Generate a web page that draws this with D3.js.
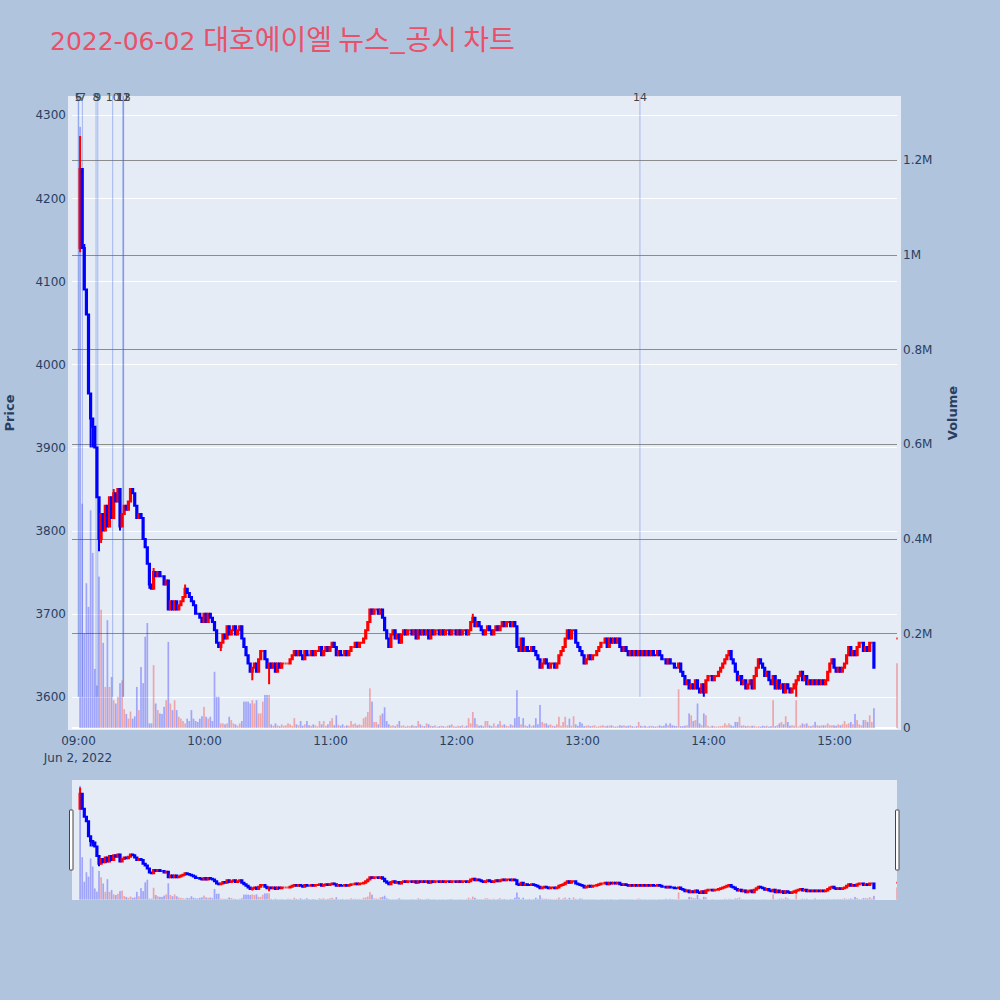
<!DOCTYPE html>
<html><head><meta charset="utf-8">
<script src="https://cdn.jsdelivr.net/npm/d3@7"></script>
<style>body{margin:0;background:#b0c4de}svg{display:block}</style>
</head><body><svg id="c" width="1000" height="1000"></svg>
<script>
// ---------------- DATA ----------------
const DAY = "2022-06-02";
const titleDate = "2022-06-02";
const titleName = "대호에이엘 뉴스_공시 차트";
const firstCandleTime = "09:01";   // one-minute candles, consecutive from here
const firstOpen = 4140;
// closing prices per minute 09:01 .. 15:19
const closes = [
4235,4140,4090,4060,3965,3935,3925,3900,3840,3790,
3820,3800,3830,3805,3840,3815,3845,3835,3850,3805,
3820,3830,3825,3835,3850,3845,3830,3815,3820,3815,
3790,3780,3760,3735,3730,3750,3745,3750,3745,3745,
3735,3740,3705,3715,3705,3715,3705,3710,3715,3720,
3730,3725,3720,3715,3710,3700,3700,3695,3690,3700,
3690,3700,3695,3690,3680,3665,3660,3665,3675,3670,
3685,3675,3680,3685,3675,3680,3685,3670,3660,3650,
3640,3630,3635,3640,3630,3645,3655,3655,3645,3635,
3640,3635,3640,3630,3640,3635,3640,3640,3640,3640,
3645,3650,3655,3650,3655,3650,3645,3655,3650,3650,
3655,3650,3655,3655,3660,3650,3655,3660,3655,3660,
3665,3660,3650,3655,3650,3650,3655,3650,3655,3660,
3660,3665,3660,3665,3665,3670,3680,3690,3705,3700,
3705,3705,3700,3705,3695,3680,3670,3660,3675,3680,
3670,3675,3665,3675,3680,3675,3680,3680,3675,3680,
3670,3680,3675,3680,3675,3680,3670,3680,3675,3680,
3680,3675,3680,3675,3680,3680,3675,3680,3680,3675,
3680,3675,3680,3680,3675,3680,3690,3695,3685,3690,
3685,3680,3675,3680,3685,3680,3675,3680,3685,3680,
3685,3690,3685,3690,3690,3685,3690,3685,3660,3655,
3670,3655,3660,3655,3655,3660,3655,3650,3645,3635,
3640,3645,3640,3635,3640,3640,3635,3640,3650,3655,
3660,3670,3680,3670,3680,3680,3665,3660,3655,3650,
3640,3645,3650,3645,3650,3650,3655,3660,3665,3665,
3670,3660,3670,3665,3670,3665,3670,3660,3655,3660,
3655,3650,3655,3650,3655,3650,3655,3650,3655,3650,
3655,3650,3655,3650,3650,3655,3650,3645,3645,3640,
3645,3640,3640,3635,3635,3640,3630,3625,3615,3620,
3610,3615,3610,3620,3610,3605,3615,3605,3620,3625,
3625,3620,3625,3625,3630,3635,3640,3645,3650,3655,
3645,3640,3630,3620,3625,3615,3620,3610,3615,3620,
3610,3625,3635,3645,3640,3635,3625,3630,3620,3615,
3625,3610,3620,3610,3615,3605,3615,3610,3605,3610,
3615,3620,3625,3630,3620,3625,3615,3620,3615,3620,
3615,3620,3615,3620,3615,3620,3630,3640,3645,3635,
3630,3635,3630,3635,3640,3650,3660,3650,3655,3650,
3660,3665,3665,3655,3660,3655,3665,3665,3635
];
// volume per minute, thousands of shares, 09:01 .. 15:19
const volumesK = [
1270,474,200,306,256,460,370,125,90,320,
250,180,87,228,87,108,59,52,66,95,
101,40,30,20,35,20,25,87,38,129,
95,193,222,10,10,133,52,38,31,30,
45,59,182,52,38,59,38,24,20,15,
10,20,15,38,20,15,13,20,25,45,
24,20,24,15,119,66,66,10,10,8,
10,24,17,10,8,5,10,15,56,56,
56,52,59,52,59,31,31,56,70,70,
70,8,5,10,6,4,8,5,6,10,
8,5,21,8,6,15,5,8,15,6,
5,8,6,4,15,8,15,5,8,15,
21,6,27,7,5,8,4,6,5,15,
8,10,6,8,6,21,24,34,84,56,
13,13,8,27,31,44,15,8,5,6,
4,8,15,5,6,3,5,4,6,5,
4,15,8,5,4,10,8,5,4,6,
3,4,5,4,3,5,6,8,4,3,
5,4,6,3,5,21,10,34,21,8,
5,6,4,15,15,6,4,10,4,8,
15,6,8,5,4,8,6,21,80,24,
8,21,6,4,8,4,6,21,8,49,
13,10,10,6,8,5,4,8,24,5,
13,24,6,20,5,25,8,5,13,10,
4,5,6,4,5,6,3,4,5,6,
4,5,5,6,4,3,4,6,5,6,
4,5,6,4,3,4,13,5,4,5,
3,4,5,4,3,4,6,4,5,10,
6,10,6,5,4,82,4,4,5,6,
31,27,15,17,52,10,6,31,27,5,
3,5,4,3,4,4,5,10,6,10,
6,4,13,13,24,5,6,4,5,4,
5,5,3,4,3,5,4,5,3,4,
59,4,6,10,13,8,25,13,5,6,
5,59,3,6,10,8,10,5,4,6,
13,6,5,6,6,6,10,6,6,6,
5,8,6,8,15,8,10,13,8,30,
17,8,6,17,17,13,27,13,42
];
// wicks that reach beyond the candle body
const wickHighs = [["09:01",4275],["09:03",4145],["09:17",3850],["09:36",3755],["09:51",3735],["12:08",3700]];
const wickLows  = [["09:01",4135],["09:06",3900],["09:07",3900],["09:10",3775],["09:11",3785],["09:20",3800],
                   ["09:34",3730],["10:08",3655],["10:23",3620],["10:31",3615],["13:58",3600],["14:42",3600]];
// closing auction
const closingAuction = {time:"15:30", open:3670, close:3670, volumeK:137};
// news / disclosure markers
const newsTimes  = ["09:00:05","09:00:20","09:02:05","09:08:35","09:09:25","09:16:30","09:21:20","09:21:35","09:21:45","13:27:35"];
const newsLabels = ["5","6","7","8","9","10","11","12","13","14"];
// axes
const priceTicks = [3600,3700,3800,3900,4000,4100,4200,4300];
const volTicks = [0,200000,400000,600000,800000,1000000,1200000];
const volTickLabels = ["0","0.2M","0.4M","0.6M","0.8M","1M","1.2M"];
const xRangeStart = "08:55:14", xRangeEnd = "15:31:54";

// ---------------- BUILD ----------------
const pT = d3.timeParse("%Y-%m-%d %H:%M:%S");
const pM = d3.timeParse("%Y-%m-%d %H:%M");
const base = pM(DAY + " " + firstCandleTime);
const hiMap = new Map(wickHighs), loMap = new Map(wickLows);
const fmtHM = d3.timeFormat("%H:%M");
const n = Math.min(closes.length, volumesK.length);
const candles = [];
let prevDir = false;
for (let i = 0; i < n; i++) {
  const t = d3.timeMinute.offset(base, i);
  const o = i === 0 ? firstOpen : closes[i-1], c = closes[i];
  const key = fmtHM(t);
  const h = Math.max(o, c, hiMap.get(key) || 0);
  const l = Math.min(o, c, loMap.get(key) || 1e9);
  const up = c > o ? true : c < o ? false : prevDir;
  prevDir = up;
  const volUp = i === 0 ? false : c > closes[i-1] ? true : c < closes[i-1] ? false : up;
  candles.push({t, o, h, l, c, up, v: volumesK[i]*1000, volUp});
}
{
  const t = pM(DAY + " " + closingAuction.time);
  const o = closingAuction.open, c = closingAuction.close;
  candles.push({t, o, c, h:Math.max(o,c), l:Math.min(o,c), up:true, v:closingAuction.volumeK*1000, volUp: c > closes[n-1]});
}

const PL=68, PR=901, PT=96, PB=730, GL=72, GR=897;
const SL=72, SR=897, ST=780, SB=900;
const x = d3.scaleTime().domain([pT(DAY+" "+xRangeStart), pT(DAY+" "+xRangeEnd)]).range([PL, PR]);
const yP = d3.scaleLinear().domain([3560, 4323]).range([PB, PT]);
const yV = d3.scaleLinear().domain([-4000, 1335000]).range([PB, PT]);
const yPs = yP.copy().range([SB, ST]);
const yVs = yV.copy().range([SB, ST]);

const RED = "#ff0000", BLUE = "#0000ff";
const FONT = "'DejaVu Sans', Verdana, sans-serif";
const TXT = "#2a3f5f";

const svg = d3.select("#c");
svg.append("rect").attr("width",1000).attr("height",1000).attr("fill","#b0c4de");

// title
const title = svg.append("text").attr("x",50).attr("y",50)
  .attr("font-family","'DejaVu Sans','Noto Sans CJK KR',sans-serif").attr("font-size",25)
  .attr("fill","#eb5069");
title.append("tspan").text(titleDate + " ");
title.append("tspan").attr("font-family","'Noto Sans CJK KR','DejaVu Sans',sans-serif").attr("font-size",28).text(titleName);

// main plot background
svg.append("rect").attr("x",PL).attr("y",PT).attr("width",PR-PL).attr("height",PB-PT).attr("fill","#e5ecf6");
const defs = svg.append("defs");
defs.append("clipPath").attr("id","clipMain").append("rect").attr("x",PL).attr("y",PT).attr("width",PR-PL).attr("height",PB-PT);
defs.append("clipPath").attr("id","clipSl").append("rect").attr("x",SL).attr("y",ST).attr("width",SR-SL).attr("height",SB-ST);

// grids
const grid = svg.append("g");
grid.selectAll("line.pg").data(priceTicks).join("line").attr("class","pg")
  .attr("x1",GL).attr("x2",GR).attr("y1",d=>Math.round(yP(d))+0.5).attr("y2",d=>Math.round(yP(d))+0.5)
  .attr("stroke","#ffffff").attr("stroke-width",1);
grid.selectAll("line.vg").data(volTicks.filter(d=>d>0)).join("line").attr("class","vg")
  .attr("x1",GL).attr("x2",GR).attr("y1",d=>Math.round(yV(d))+0.5).attr("y2",d=>Math.round(yV(d))+0.5)
  .attr("stroke","#8c8c8c").attr("stroke-width",1);
grid.append("line").attr("x1",GL).attr("x2",GR).attr("y1",yV(0)).attr("y2",yV(0))
  .attr("stroke","#ffffff").attr("stroke-width",2);

const bw = 1.7;
function drawBars(g, yv) {
  g.selectAll("rect.vb").data(candles).join("rect").attr("class","vb")
    .attr("x",d=>x(d.t)-bw/2).attr("width",bw)
    .attr("y",d=>yv(d.v)).attr("height",d=>Math.max(0, yv(0)-yv(d.v)))
    .attr("fill",d=>d.volUp?RED:BLUE).attr("fill-opacity",0.3);
}
function candlePath(d, y, w) {
  const xc = x(d.t);
  const yo = y(d.o), yc = y(d.c), yh = y(d.h), yl = y(d.l);
  const top = Math.min(yo,yc), bot = Math.max(yo,yc);
  return `M${xc-w},${yo}V${yc}H${xc+w}V${yo}Z M${xc},${yh}V${top} M${xc},${bot}V${yl}`;
}
function drawCandles(g, y, sw, w) {
  g.selectAll("path.cd").data(candles).join("path").attr("class","cd")
    .attr("d",d=>candlePath(d,y,w))
    .attr("fill",d=>d.up?RED:BLUE).attr("stroke",d=>d.up?RED:BLUE).attr("stroke-width",sw);
}

const main = svg.append("g").attr("clip-path","url(#clipMain)");
drawBars(main.append("g"), yV);
// news marker lines
const newsT = newsTimes.map(s => pT(DAY+" "+s));
main.append("g").selectAll("line").data(newsT).join("line")
  .attr("x1",d=>x(d)).attr("x2",d=>x(d)).attr("y1",PT).attr("y2",yP(3600))
  .attr("stroke","royalblue").attr("stroke-opacity",0.4).attr("stroke-width",1);
drawCandles(main.append("g"), yP, 2, 0.6);

// news labels
svg.append("g").selectAll("text").data(newsT).join("text")
  .attr("x",d=>x(d)).attr("y",101).attr("text-anchor","middle")
  .attr("font-family",FONT).attr("font-size",11).attr("fill","#444")
  .text((d,i)=>newsLabels[i]);

// left axis
const axL = svg.append("g").attr("transform",`translate(${PL-2},0)`)
  .call(d3.axisLeft(yP).tickValues(priceTicks).tickFormat(d3.format("d")).tickSize(0).tickPadding(0));
axL.select(".domain").remove();
axL.selectAll("text").attr("font-family",FONT).attr("font-size",12).attr("fill",TXT);
// right axis
const axR = svg.append("g").attr("transform",`translate(${PR+2},0)`)
  .call(d3.axisRight(yV).tickValues(volTicks).tickFormat((d,i)=>volTickLabels[i]).tickSize(0).tickPadding(0));
axR.select(".domain").remove();
axR.selectAll("text").attr("font-family",FONT).attr("font-size",12).attr("fill",TXT);
// bottom axis
const axB = svg.append("g").attr("transform",`translate(0,${PB+4})`)
  .call(d3.axisBottom(x).ticks(d3.timeHour.every(1)).tickFormat(d3.timeFormat("%H:%M")).tickSize(0).tickPadding(0));
axB.select(".domain").remove();
axB.selectAll("text").attr("font-family",FONT).attr("font-size",12).attr("fill",TXT).attr("dy","0.95em");
svg.append("text").attr("x",x(pM(DAY+" 09:00"))).attr("y",761.5).attr("text-anchor","middle")
  .attr("font-family",FONT).attr("font-size",12).attr("fill",TXT)
  .text(d3.timeFormat("%b %-d, %Y")(pM(DAY+" 09:00")));

// axis titles
svg.append("text").attr("transform","translate(14,413) rotate(-90)").attr("text-anchor","middle")
  .attr("font-family",FONT).attr("font-size",13).attr("font-weight","bold").attr("fill",TXT).text("Price");
svg.append("text").attr("transform","translate(957,413) rotate(-90)").attr("text-anchor","middle")
  .attr("font-family",FONT).attr("font-size",13).attr("font-weight","bold").attr("fill",TXT).text("Volume");

// range slider
svg.append("rect").attr("x",SL).attr("y",ST).attr("width",SR-SL).attr("height",SB-ST).attr("fill","#e5ecf6");
const sl = svg.append("g").attr("clip-path","url(#clipSl)");
drawBars(sl.append("g"), yVs);
drawCandles(sl.append("g"), yPs, 2, 0.6);
[[69.5,810],[895.5,810]].forEach(([hx,hy])=>{
  svg.append("rect").attr("x",hx).attr("y",hy).attr("width",3.5).attr("height",60)
    .attr("fill","#fff").attr("stroke","#444").attr("stroke-width",1).attr("rx",0.5);
});
</script></body></html>
